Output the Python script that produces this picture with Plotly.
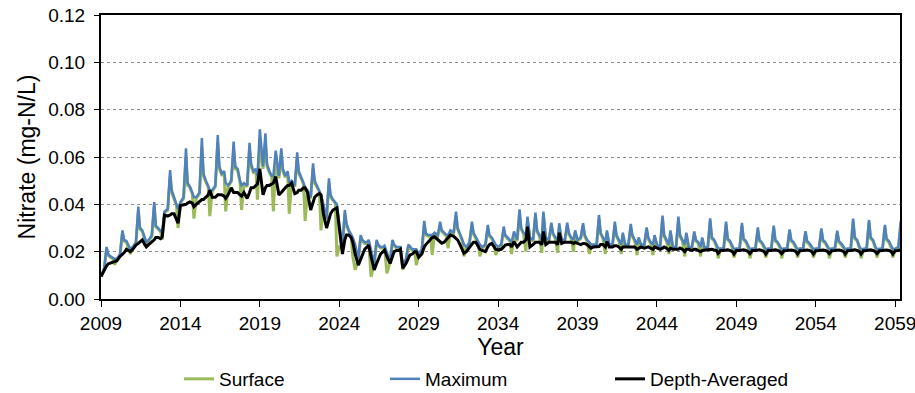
import plotly.graph_objects as go

# simulated nitrate, one row per year, sampled at fixed fractions of the year
years = list(range(2009, 2060))
phase = [0.0, 0.2, 0.35, 0.45, 0.6, 0.75, 0.85]

surface = [
    [0.0095, 0.0125, 0.021, 0.0185, 0.0175, 0.017, 0.0145],
    [0.0165, 0.0185, 0.028, 0.0245, 0.024, 0.0215, 0.019],
    [0.0215, 0.0235, 0.037, 0.0295, 0.0285, 0.0255, 0.022],
    [0.0245, 0.0265, 0.039, 0.0305, 0.0295, 0.0285, 0.025],
    [0.0365, 0.0375, 0.052, 0.045, 0.0425, 0.0395, 0.030],
    [0.0405, 0.0425, 0.060, 0.048, 0.047, 0.0445, 0.034],
    [0.0425, 0.0445, 0.064, 0.052, 0.0495, 0.0475, 0.035],
    [0.0455, 0.0475, 0.066, 0.055, 0.0525, 0.053, 0.037],
    [0.0475, 0.0495, 0.063, 0.055, 0.0545, 0.0495, 0.0376],
    [0.0485, 0.0475, 0.063, 0.056, 0.0535, 0.054, 0.042],
    [0.066, 0.055, 0.066, 0.056, 0.0535, 0.0515, 0.037],
    [0.058, 0.051, 0.061, 0.054, 0.0515, 0.053, 0.036],
    [0.0495, 0.0475, 0.059, 0.053, 0.051, 0.0485, 0.033],
    [0.0455, 0.0425, 0.055, 0.049, 0.0475, 0.0455, 0.029],
    [0.0395, 0.0335, 0.049, 0.043, 0.0415, 0.0405, 0.018],
    [0.022, 0.0215, 0.036, 0.031, 0.0285, 0.0265, 0.018],
    [0.0123, 0.0165, 0.026, 0.0245, 0.0235, 0.0235, 0.0245],
    [0.0094, 0.0145, 0.024, 0.0225, 0.0215, 0.0215, 0.022],
    [0.0108, 0.0155, 0.024, 0.0225, 0.0215, 0.0215, 0.0215],
    [0.0123, 0.0165, 0.022, 0.0215, 0.0205, 0.0205, 0.0143],
    [0.0185, 0.0205, 0.031, 0.027, 0.0265, 0.0265, 0.0186],
    [0.0275, 0.0265, 0.031, 0.0285, 0.0275, 0.0265, 0.0214],
    [0.0285, 0.0275, 0.035, 0.0295, 0.027, 0.0245, 0.018],
    [0.0215, 0.0235, 0.031, 0.0275, 0.0255, 0.0235, 0.018],
    [0.0215, 0.0225, 0.030, 0.0265, 0.0255, 0.0235, 0.0186],
    [0.0215, 0.0225, 0.029, 0.0265, 0.0255, 0.0245, 0.019],
    [0.027, 0.0245, 0.036, 0.0295, 0.0275, 0.020, 0.033],
    [0.0255, 0.0245, 0.035, 0.0285, 0.0265, 0.0195, 0.035],
    [0.0255, 0.0245, 0.031, 0.0275, 0.0255, 0.0195, 0.030],
    [0.0245, 0.0245, 0.031, 0.0275, 0.0255, 0.020, 0.028],
    [0.0245, 0.0255, 0.031, 0.0265, 0.0245, 0.019, 0.0225],
    [0.0225, 0.0225, 0.034, 0.0275, 0.0255, 0.019, 0.028],
    [0.0225, 0.0225, 0.031, 0.0265, 0.0245, 0.019, 0.027],
    [0.0225, 0.0225, 0.030, 0.0265, 0.0245, 0.0185, 0.025],
    [0.0225, 0.0225, 0.029, 0.0255, 0.0235, 0.0185, 0.026],
    [0.0225, 0.0215, 0.034, 0.0265, 0.0245, 0.019, 0.028],
    [0.0215, 0.0215, 0.033, 0.0265, 0.0245, 0.018, 0.027],
    [0.0215, 0.0215, 0.0275, 0.0245, 0.0235, 0.018, 0.025],
    [0.021, 0.0215, 0.033, 0.0255, 0.0245, 0.022, 0.0172],
    [0.0208, 0.021, 0.0315, 0.025, 0.024, 0.0215, 0.0175],
    [0.0208, 0.021, 0.031, 0.025, 0.024, 0.0215, 0.0172],
    [0.0208, 0.021, 0.029, 0.0245, 0.0235, 0.0215, 0.0175],
    [0.0208, 0.021, 0.030, 0.0245, 0.0235, 0.0215, 0.0172],
    [0.0208, 0.021, 0.0285, 0.0245, 0.0235, 0.0215, 0.0175],
    [0.0208, 0.021, 0.0278, 0.024, 0.023, 0.0215, 0.0175],
    [0.0208, 0.021, 0.0288, 0.0245, 0.0235, 0.0215, 0.0172],
    [0.0208, 0.021, 0.028, 0.024, 0.023, 0.0215, 0.0175],
    [0.0208, 0.021, 0.033, 0.0255, 0.0245, 0.0215, 0.0172],
    [0.0208, 0.021, 0.0325, 0.0255, 0.0245, 0.0215, 0.0175],
    [0.0208, 0.021, 0.0303, 0.025, 0.024, 0.0215, 0.0175],
    [0.0208, 0.0215, 0.032],
]

maximum = [
    [0.0095, 0.013, 0.022, 0.019, 0.018, 0.0175, 0.017],
    [0.017, 0.019, 0.029, 0.025, 0.0245, 0.022, 0.021],
    [0.022, 0.024, 0.039, 0.030, 0.029, 0.026, 0.024],
    [0.025, 0.027, 0.041, 0.031, 0.030, 0.029, 0.028],
    [0.037, 0.038, 0.0545, 0.046, 0.043, 0.040, 0.038],
    [0.041, 0.043, 0.0637, 0.049, 0.0475, 0.045, 0.043],
    [0.043, 0.045, 0.068, 0.053, 0.050, 0.048, 0.046],
    [0.046, 0.048, 0.0693, 0.056, 0.053, 0.054, 0.049],
    [0.048, 0.050, 0.0665, 0.056, 0.055, 0.050, 0.048],
    [0.049, 0.048, 0.066, 0.057, 0.054, 0.055, 0.052],
    [0.0717, 0.056, 0.070, 0.057, 0.054, 0.052, 0.052],
    [0.0627, 0.052, 0.0637, 0.055, 0.052, 0.054, 0.049],
    [0.050, 0.048, 0.062, 0.054, 0.0517, 0.049, 0.047],
    [0.046, 0.043, 0.0573, 0.050, 0.048, 0.046, 0.044],
    [0.040, 0.034, 0.051, 0.044, 0.042, 0.041, 0.040],
    [0.032, 0.022, 0.0376, 0.032, 0.029, 0.027, 0.026],
    [0.023, 0.017, 0.027, 0.025, 0.024, 0.024, 0.025],
    [0.021, 0.015, 0.025, 0.023, 0.022, 0.022, 0.0225],
    [0.020, 0.016, 0.025, 0.023, 0.022, 0.022, 0.022],
    [0.0145, 0.017, 0.023, 0.022, 0.021, 0.021, 0.021],
    [0.019, 0.021, 0.033, 0.0277, 0.027, 0.027, 0.027],
    [0.028, 0.027, 0.0327, 0.029, 0.028, 0.027, 0.027],
    [0.029, 0.028, 0.0369, 0.030, 0.0277, 0.025, 0.023],
    [0.022, 0.024, 0.0327, 0.028, 0.026, 0.024, 0.023],
    [0.022, 0.023, 0.0313, 0.027, 0.026, 0.024, 0.023],
    [0.022, 0.023, 0.0306, 0.027, 0.026, 0.025, 0.024],
    [0.0285, 0.025, 0.0379, 0.030, 0.028, 0.027, 0.0348],
    [0.026, 0.025, 0.0365, 0.029, 0.027, 0.025, 0.0369],
    [0.026, 0.025, 0.0322, 0.028, 0.026, 0.025, 0.032],
    [0.025, 0.025, 0.0322, 0.028, 0.026, 0.025, 0.029],
    [0.025, 0.026, 0.032, 0.027, 0.025, 0.024, 0.023],
    [0.023, 0.023, 0.0355, 0.028, 0.026, 0.024, 0.029],
    [0.023, 0.023, 0.0327, 0.027, 0.025, 0.023, 0.028],
    [0.023, 0.023, 0.0317, 0.027, 0.025, 0.023, 0.026],
    [0.023, 0.023, 0.0302, 0.026, 0.024, 0.023, 0.027],
    [0.023, 0.022, 0.0352, 0.027, 0.025, 0.023, 0.029],
    [0.022, 0.022, 0.0348, 0.027, 0.025, 0.023, 0.028],
    [0.022, 0.022, 0.0285, 0.025, 0.024, 0.022, 0.026],
    [0.0215, 0.022, 0.0341, 0.026, 0.025, 0.0225, 0.0214],
    [0.0213, 0.0215, 0.0327, 0.0255, 0.0245, 0.022, 0.021],
    [0.0213, 0.0215, 0.0322, 0.0255, 0.0245, 0.022, 0.021],
    [0.0213, 0.0215, 0.0303, 0.025, 0.024, 0.022, 0.021],
    [0.0213, 0.0215, 0.031, 0.025, 0.024, 0.022, 0.021],
    [0.0213, 0.0215, 0.0294, 0.025, 0.024, 0.022, 0.021],
    [0.0213, 0.0215, 0.0287, 0.0245, 0.0235, 0.022, 0.021],
    [0.0213, 0.0215, 0.0298, 0.025, 0.024, 0.022, 0.021],
    [0.0213, 0.0215, 0.0289, 0.0245, 0.0235, 0.022, 0.021],
    [0.0213, 0.0215, 0.034, 0.026, 0.025, 0.022, 0.021],
    [0.0213, 0.0215, 0.0334, 0.026, 0.025, 0.022, 0.021],
    [0.0213, 0.0215, 0.0313, 0.0255, 0.0245, 0.022, 0.021],
    [0.0213, 0.022, 0.033],
]

depth_avg = [
    [0.0095, 0.0125, 0.014, 0.0148, 0.0152, 0.0158, 0.016],
    [0.0162, 0.018, 0.0188, 0.0195, 0.021, 0.0205, 0.020],
    [0.021, 0.0228, 0.0235, 0.024, 0.025, 0.023, 0.022],
    [0.023, 0.024, 0.025, 0.026, 0.026, 0.0255, 0.0262],
    [0.0355, 0.035, 0.0355, 0.036, 0.036, 0.034, 0.032],
    [0.0395, 0.0397, 0.040, 0.0405, 0.041, 0.0405, 0.039],
    [0.040, 0.041, 0.042, 0.042, 0.043, 0.044, 0.046],
    [0.043, 0.043, 0.044, 0.044, 0.044, 0.0435, 0.0425],
    [0.044, 0.047, 0.045, 0.045, 0.045, 0.044, 0.0435],
    [0.045, 0.0425, 0.045, 0.047, 0.047, 0.048, 0.0486],
    [0.055, 0.044, 0.047, 0.048, 0.048, 0.0485, 0.049],
    [0.0517, 0.044, 0.045, 0.046, 0.047, 0.048, 0.048],
    [0.049, 0.0445, 0.045, 0.046, 0.046, 0.047, 0.047],
    [0.045, 0.0376, 0.041, 0.043, 0.044, 0.0446, 0.044],
    [0.036, 0.030, 0.034, 0.036, 0.0376, 0.038, 0.0385],
    [0.030, 0.019, 0.025, 0.027, 0.027, 0.026, 0.024],
    [0.019, 0.0143, 0.017, 0.019, 0.021, 0.022, 0.0228],
    [0.018, 0.0123, 0.015, 0.017, 0.019, 0.020, 0.0207],
    [0.018, 0.015, 0.018, 0.020, 0.0205, 0.0205, 0.021],
    [0.013, 0.015, 0.017, 0.0186, 0.019, 0.020, 0.020],
    [0.0176, 0.019, 0.022, 0.023, 0.024, 0.025, 0.026],
    [0.0263, 0.025, 0.024, 0.0236, 0.024, 0.025, 0.026],
    [0.027, 0.0265, 0.0257, 0.025, 0.023, 0.021, 0.0193],
    [0.020, 0.022, 0.023, 0.024, 0.024, 0.022, 0.021],
    [0.0205, 0.020, 0.022, 0.023, 0.0235, 0.022, 0.021],
    [0.0207, 0.021, 0.022, 0.0228, 0.023, 0.023, 0.022],
    [0.0243, 0.022, 0.023, 0.024, 0.024, 0.025, 0.0306],
    [0.022, 0.023, 0.024, 0.024, 0.024, 0.023, 0.0285],
    [0.023, 0.024, 0.024, 0.024, 0.024, 0.023, 0.028],
    [0.0235, 0.024, 0.024, 0.024, 0.024, 0.0235, 0.024],
    [0.0235, 0.023, 0.0235, 0.0235, 0.023, 0.022, 0.0215],
    [0.022, 0.022, 0.0222, 0.023, 0.023, 0.022, 0.0242],
    [0.022, 0.022, 0.0225, 0.0225, 0.022, 0.021, 0.022],
    [0.022, 0.022, 0.022, 0.022, 0.022, 0.021, 0.0215],
    [0.022, 0.0215, 0.022, 0.022, 0.0215, 0.021, 0.022],
    [0.0215, 0.021, 0.0215, 0.022, 0.0215, 0.0205, 0.0215],
    [0.021, 0.021, 0.021, 0.0215, 0.021, 0.020, 0.021],
    [0.021, 0.0205, 0.021, 0.021, 0.0205, 0.020, 0.0205],
    [0.0207, 0.0207, 0.021, 0.021, 0.0207, 0.0205, 0.0193],
    [0.0205, 0.0205, 0.0208, 0.0208, 0.0205, 0.020, 0.019],
    [0.0205, 0.0205, 0.0208, 0.0208, 0.0205, 0.020, 0.0192],
    [0.0205, 0.0205, 0.0208, 0.0208, 0.0205, 0.020, 0.019],
    [0.0205, 0.0205, 0.0208, 0.0208, 0.0205, 0.020, 0.0192],
    [0.0204, 0.0205, 0.0207, 0.0207, 0.0205, 0.020, 0.019],
    [0.0204, 0.0205, 0.0207, 0.0207, 0.0205, 0.020, 0.019],
    [0.0204, 0.0205, 0.0207, 0.0207, 0.0205, 0.020, 0.0192],
    [0.0204, 0.0205, 0.0207, 0.0207, 0.0205, 0.020, 0.019],
    [0.0204, 0.0205, 0.0208, 0.0208, 0.0205, 0.020, 0.019],
    [0.0204, 0.0205, 0.0208, 0.0208, 0.0205, 0.020, 0.0192],
    [0.0204, 0.0205, 0.0207, 0.0207, 0.0205, 0.020, 0.019],
    [0.0204, 0.0205, 0.0208],
]


def flatten(rows):
    xs, ys = [], []
    for yr, row in zip(years, rows):
        for p, v in zip(phase, row):
            xs.append(yr + p)
            ys.append(v)
    return xs, ys


W, H = 915, 393
fnt = dict(family="Liberation Sans, Arial, sans-serif", size=19, color="black")

series = [("Surface", surface, "#9BBB59", 3, "legend", 179),
          ("Maximum", maximum, "#4F81BD", 2.5, "legend2", 385),
          ("Depth-Averaged", depth_avg, "black", 3, "legend3", 610)]

fig = go.Figure()
legends = {}
for name, rows, col, w, lg, lx in series:
    x, y = flatten(rows)
    fig.add_trace(go.Scatter(x=x, y=y, mode="lines", name=name, legend=lg,
                             line=dict(color=col, width=w)))
    legends[lg] = dict(orientation="h", xref="container", x=lx / W, xanchor="left",
                       yref="container", y=1 - 379 / H, yanchor="middle",
                       font=fnt, itemwidth=30, bgcolor="rgba(0,0,0,0)")

fig.update_layout(
    width=W, height=H,
    margin=dict(l=101, r=15, t=15, b=94, autoexpand=False),
    paper_bgcolor="white", plot_bgcolor="white",
    font=fnt,
    showlegend=True,
    **legends,
)
fig.update_xaxes(range=[2009, 2059.3], tick0=2009, dtick=5, ticks="outside",
                 ticklen=6, tickcolor="black", showline=True, linecolor="black",
                 linewidth=1.5, mirror=True, showgrid=False, zeroline=False,
                 ticklabeloverflow="allow",
                 automargin=False, title=dict(text="Year", standoff=14))
fig.update_yaxes(range=[0, 0.12], dtick=0.02, tickformat=".2f", ticks="outside",
                 ticklen=5, tickcolor="black", showline=True, linecolor="black",
                 linewidth=1.5, mirror=True, showgrid=True, gridcolor="#8c8c8c",
                 griddash="dot", gridwidth=1, zeroline=False, automargin=False,
                 ticklabeloverflow="allow", ticksuffix="\u00a0",
                 title=dict(text="Nitrate (mg-N/L)", standoff=6))

# drop the page's default body margin so the figure sits at the window origin
fig.write_html("out.html", config={"displayModeBar": False},
               post_script="document.body.style.margin='0';document.body.style.overflow='hidden';")
